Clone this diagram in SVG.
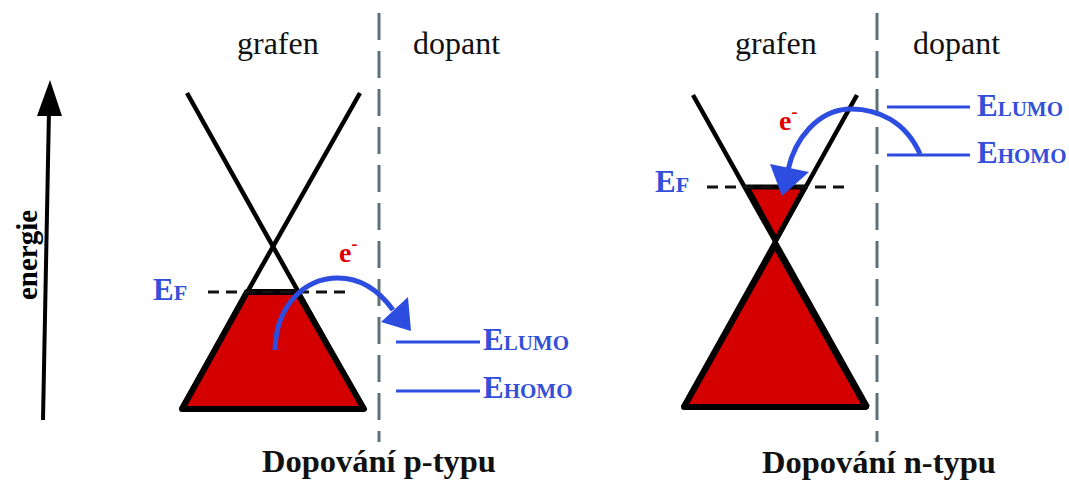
<svg xmlns="http://www.w3.org/2000/svg" width="1069" height="480" viewBox="0 0 1069 480">
<style>
.hdr{font-family:"Liberation Serif","Times New Roman",serif;font-size:32px;fill:#111}
.ttl{font-family:"Liberation Serif","Times New Roman",serif;font-size:32.5px;font-weight:bold;fill:#111}
.lvl{font-family:"Liberation Serif","Times New Roman",serif;font-weight:bold;fill:#3550d8}
.el{font-family:"Liberation Serif","Times New Roman",serif;font-weight:bold;fill:#e00000}
.sep{stroke:#5f7178;stroke-width:3;stroke-dasharray:27 11;fill:none}
.ef{stroke:#111;stroke-width:3;stroke-dasharray:11 7;fill:none}
.cone{stroke:#000;stroke-width:4.5;fill:none}
.fill{fill:#d40000;stroke:#000;stroke-width:6;stroke-linejoin:round}
.lv{stroke:#2d4de0;stroke-width:3}
.arc{stroke:#2d4de0;stroke-width:5;fill:none}
.head{fill:#2d4de0}
</style>
<g id="axis">
<line x1="43" y1="420" x2="49" y2="110" stroke="#000" stroke-width="4"/>
<polygon points="50,80 37,116 62,116" fill="#000"/>
<text transform="translate(37,255) rotate(-90)" text-anchor="middle" style="font-family:'Liberation Serif','Times New Roman',serif;font-weight:bold;font-size:29px;fill:#000">energie</text>
</g>
<g id="separators">
<line class="sep" x1="379" y1="13" x2="379" y2="442"/>
<line class="sep" x1="877" y1="13" x2="877" y2="442"/>
</g>
<g id="p-type">
<text class="hdr" x="237" y="54">grafen</text>
<text class="hdr" x="413" y="54">dopant</text>
<line class="cone" x1="187" y1="93" x2="364" y2="409"/>
<line class="cone" x1="360" y1="93" x2="181" y2="409"/>
<polygon class="fill" points="247,292 297,292 364,409 182,409"/>
<line class="ef" x1="208" y1="292" x2="348" y2="292"/>
<text class="lvl" x="153" y="300" font-size="31">E<tspan font-size="22">F</tspan></text>
<line class="lv" x1="396" y1="342" x2="480" y2="342"/>
<line class="lv" x1="396" y1="391" x2="480" y2="391"/>
<text class="lvl" x="483" y="350" font-size="31">E<tspan font-size="21">LUMO</tspan></text>
<text class="lvl" x="483" y="398" font-size="31">E<tspan font-size="21">HOMO</tspan></text>
<text class="el" x="339" y="262" font-size="28">e<tspan font-size="18" dy="-12">-</tspan></text>
<text class="ttl" x="262" y="472">Dopování p-typu</text>
</g>
<g id="n-type">
<text class="hdr" x="735" y="54">grafen</text>
<text class="hdr" x="913" y="54">dopant</text>
<line class="cone" x1="693" y1="95" x2="868" y2="407"/>
<line class="cone" x1="857" y1="95" x2="683" y2="407"/>
<polygon class="fill" points="775,245 866,407 684,407"/>
<polygon class="fill" style="stroke-width:5" points="747,187 805,187 776,240"/>
<line class="ef" x1="707" y1="187" x2="845" y2="187"/>
<text class="lvl" x="655" y="192" font-size="31">E<tspan font-size="22">F</tspan></text>
<line class="lv" x1="887" y1="107" x2="970" y2="107"/>
<line class="lv" x1="887" y1="155" x2="970" y2="155"/>
<text class="lvl" x="977" y="116" font-size="31">E<tspan font-size="21">LUMO</tspan></text>
<text class="lvl" x="977" y="163" font-size="31">E<tspan font-size="21">HOMO</tspan></text>
<text class="el" x="779" y="130" font-size="28">e<tspan font-size="18" dy="-12">-</tspan></text>
<text class="ttl" x="762" y="473">Dopování n-typu</text>
</g>
<g id="connectors">
<path class="arc" d="M275,350 C276,305 305,278 338,278 C362,278 380,292 393,310"/>
<polygon class="head" points="381,322 408,297 411,331"/>
<path class="arc" d="M920,154 C906,122 878,108 848,109 C818,111 795,138 788,170"/>
<polygon class="head" points="770,164 809,172 782,196"/>
</g>
</svg>
